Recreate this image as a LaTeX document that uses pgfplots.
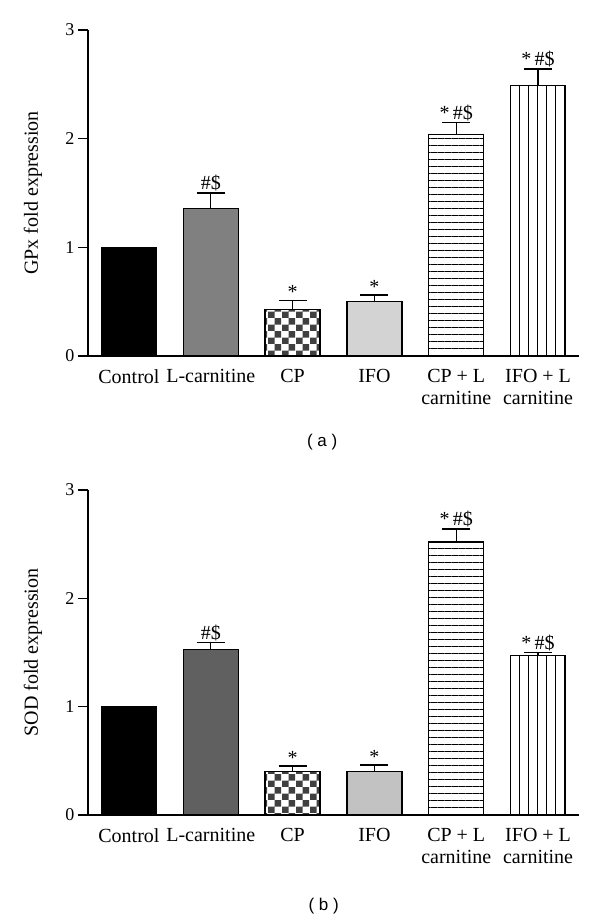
\documentclass[border=0pt]{standalone}
\usepackage{fontspec}
\setmainfont{Liberation Serif}
\setsansfont{Liberation Sans}
\usepackage{pgfplots}
\pgfplotsset{compat=1.18}
\usetikzlibrary{patterns,patterns.meta}

\pgfdeclarepatternformonly{mycheck}{\pgfpointorigin}{\pgfqpoint{13.4pt}{13.4pt}}{\pgfqpoint{13.4pt}{13.4pt}}{%
  \pgfpathrectangle{\pgfpointorigin}{\pgfqpoint{6.7pt}{6.7pt}}%
  \pgfpathrectangle{\pgfqpoint{6.7pt}{6.7pt}}{\pgfqpoint{6.7pt}{6.7pt}}%
  \pgfusepath{fill}}

\definecolor{lgA}{RGB}{128,128,128}
\definecolor{lgB}{RGB}{96,96,96}
\definecolor{ifoA}{RGB}{211,211,211}
\definecolor{ifoB}{RGB}{194,194,194}
\definecolor{chk}{RGB}{64,64,64}

\newcommand\lab{\fontsize{20}{22}\selectfont}
\newcommand\tck{\fontsize{18}{20}\selectfont}

\pgfplotsset{
  myaxis/.style={
    scale only axis, width=491pt,
    xmin=-0.5, xmax=5.5, ymin=0, ymax=3,
    axis x line=bottom, axis y line=left,
    axis line style={-, line width=1.5pt},
    ytick={0,1,2,3},
    tick align=outside, major tick length=10pt,
    ytick style={line width=1.5pt, black},
    xtick={0,...,5},
    xtick style={draw=none},
    xticklabels={Control, L-carnitine, CP, IFO, {CP + L\\carnitine}, {IFO + L\\carnitine}},
    xticklabel style={align=center, font=\lab},
    yticklabel style={font=\tck},
    /pgf/number format/assume math mode=true,
    ylabel style={font=\lab, at={(axis description cs:-0.112,0.5)}, anchor=center},
    xlabel style={font=\sffamily\fontsize{17}{20}\selectfont, anchor=center},
    clip=false,
  },
  bar/.style={ybar, bar width=55pt, bar shift=0pt, draw=black, line width=1.4pt},
  err/.style={error bars/.cd, y dir=plus, y explicit,
    error bar style={line width=1.5pt, black},
    error mark options={rotate=90, mark size=14pt, line width=1.5pt, black}},
  sig/.style={draw=none, mark=none, nodes near coords, point meta=explicit symbolic,
    nodes near coords style={font=\lab, anchor=south, inner sep=1.5pt, black}},
  hlA/.style={pattern={Lines[angle=0, distance=7pt, line width=1.7pt, yshift=3.5pt]}, pattern color=black},
  hlB/.style={pattern={Lines[angle=0, distance=7pt, line width=1.7pt, yshift=6.5pt]}, pattern color=black},
  vl/.style={pattern={Lines[angle=90, distance=9pt, line width=1.4pt, xshift=6.58pt]}, pattern color=black},
}

\begin{document}
\begin{tikzpicture}
\path[use as bounding box] (0,0) rectangle (600pt,919pt);

% Panel (a)
\begin{axis}[myaxis, at={(88pt,563pt)}, anchor=south west, height=326pt,
  ylabel={GPx fold expression},
  xlabel={( a )}, xlabel style={at={(axis description cs:0.477,-0.264)}}]
\addplot[bar, fill=black] coordinates {(0,1)};
\addplot[bar, fill=lgA, err] coordinates {(1,1.36) +- (0,0.14)};
\addplot[bar, pattern=mycheck, pattern color=chk, err] coordinates {(2,0.43) +- (0,0.08)};
\addplot[bar, fill=ifoA, err] coordinates {(3,0.50) +- (0,0.06)};
\addplot[bar, hlA, err] coordinates {(4,2.04) +- (0,0.11)};
\addplot[bar, vl, err] coordinates {(5,2.49) +- (0,0.15)};
\addplot[sig] coordinates {(1,1.50) [\#\$] (2,0.51) [*] (3,0.56) [*] (4,2.15) [*\,\#\$] (5,2.64) [*\,\#\$]};
\end{axis}

% Panel (b)
\begin{axis}[myaxis, at={(88pt,104pt)}, anchor=south west, height=325pt,
  ylabel={SOD fold expression},
  xlabel={( b )}, xlabel style={at={(axis description cs:0.48,-0.28)}}]
\addplot[bar, fill=black] coordinates {(0,1)};
\addplot[bar, fill=lgB, err] coordinates {(1,1.53) +- (0,0.06)};
\addplot[bar, pattern=mycheck, pattern color=chk, err] coordinates {(2,0.40) +- (0,0.05)};
\addplot[bar, fill=ifoB, err] coordinates {(3,0.40) +- (0,0.06)};
\addplot[bar, hlB, err] coordinates {(4,2.52) +- (0,0.12)};
\addplot[bar, vl, err] coordinates {(5,1.47) +- (0,0.03)};
\addplot[sig] coordinates {(1,1.59) [\#\$] (2,0.45) [*] (3,0.46) [*] (4,2.64) [*\,\#\$] (5,1.50) [*\,\#\$]};
\end{axis}
\end{tikzpicture}
\end{document}
